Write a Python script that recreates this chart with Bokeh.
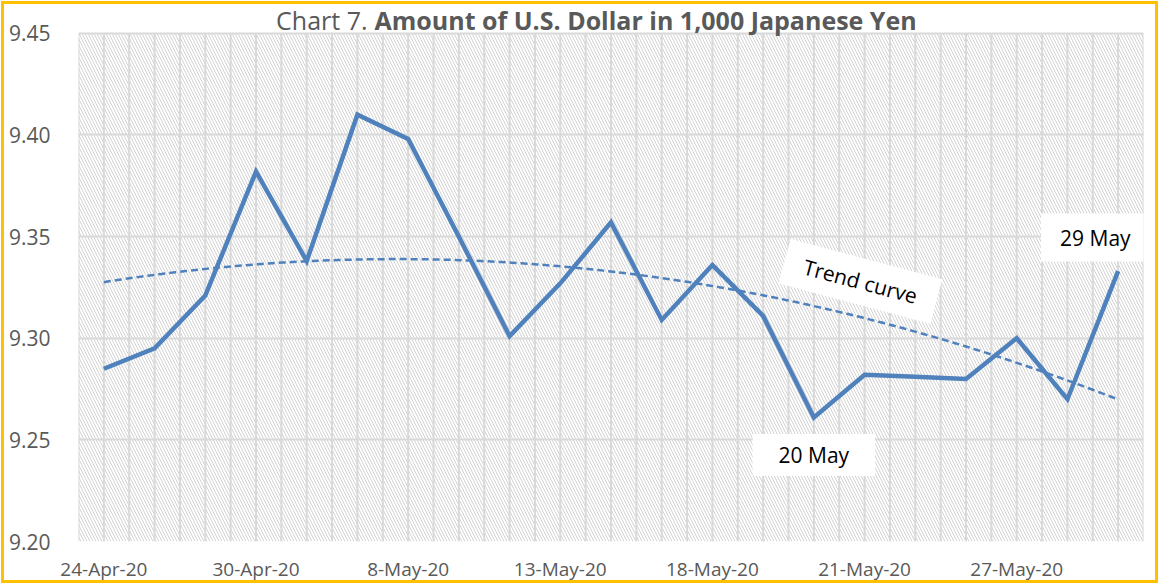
import numpy as np
from bokeh.plotting import figure
from bokeh.models import (BoxAnnotation, Label, FixedTicker, Range1d,
                          CustomJSTickFormatter)
from bokeh.embed import file_html
from bokeh.resources import INLINE

# ---- data ----
dates = ["24-Apr-20", "27-Apr-20", "28-Apr-20", "30-Apr-20", "1-May-20",
         "7-May-20", "8-May-20", "11-May-20", "12-May-20", "13-May-20",
         "14-May-20", "15-May-20", "18-May-20", "19-May-20", "20-May-20",
         "21-May-20", "22-May-20", "26-May-20", "27-May-20", "28-May-20",
         "29-May-20"]
usd = [9.285, 9.295, 9.321, 9.382, 9.338, 9.410, 9.398, 9.350, 9.301, 9.327,
       9.357, 9.309, 9.336, 9.311, 9.261, 9.282, 9.281, 9.280, 9.300, 9.270,
       9.333]
y_ticks = [9.20, 9.25, 9.30, 9.35, 9.40, 9.45]
x_label_every = 3
title_plain = "Chart 7."
title_bold = "Amount of U.S. Dollar in 1,000 Japanese Yen"

FONT = "Open Sans"
GRAY = "#595959"
BLUE = "#4f81bd"
GRID = "#d9d9d9"

xs = list(range(len(usd)))
y_lo, y_hi = y_ticks[0], y_ticks[-1]

p = figure(width=1159, height=584, output_backend="svg",
           toolbar_location=None,
           x_range=Range1d(-0.5, len(usd) - 0.5),
           y_range=Range1d(y_lo, y_hi + 0.0137),
           min_border_left=78, min_border_right=16, min_border_top=5,
           min_border_bottom=41,
           styles={"outline": "3px solid #FFC000", "outline-offset": "-4px",
                   "background-color": "white"})
p.outline_line_color = None
p.background_fill_color = "white"
p.border_fill_color = None

# hatch background of the plot area
p.add_layout(BoxAnnotation(top=y_hi, fill_alpha=0, line_color=None,
                           hatch_pattern="\\", hatch_color="#d2d2d2",
                           hatch_scale=6, hatch_weight=1, level="image"))

# grids
p.xgrid.visible = False
p.ygrid.ticker = FixedTicker(ticks=y_ticks)
p.ygrid.grid_line_color = GRID
p.ygrid.grid_line_width = 2
vticks = [i / 2 - 0.5 for i in range(2 * len(usd) + 1)]
p.segment(x0=vticks, x1=vticks, y0=[y_lo] * len(vticks),
          y1=[y_hi] * len(vticks), line_color=GRID, line_width=2,
          level="underlay")

# axes
p.xaxis.ticker = FixedTicker(ticks=xs[::x_label_every])
p.xaxis.major_label_overrides = {i: dates[i] for i in xs[::x_label_every]}
p.yaxis.ticker = FixedTicker(ticks=y_ticks)
p.yaxis.formatter = CustomJSTickFormatter(code="return tick.toFixed(2);")
for ax in (p.xaxis[0], p.yaxis[0]):
    ax.axis_line_color = None
    ax.major_tick_line_color = None
    ax.minor_tick_line_color = None
    ax.major_label_text_font = FONT
    ax.major_label_text_color = GRAY
p.xaxis.major_label_text_font_size = "19px"
p.yaxis.major_label_text_font_size = "21px"
p.yaxis.major_label_standoff = 22
p.xaxis.major_label_standoff = 8

# trend curve (2nd order polynomial trendline of the data)
coef = np.polyfit(xs, usd, 2)
tx = np.linspace(0, len(usd) - 1, 200)
p.line(tx, np.polyval(coef, tx), line_color=BLUE, line_width=2.5,
       line_dash="7 4")

# main line
p.line(xs, usd, line_color=BLUE, line_width=4.5, line_join="miter")

# annotations
lab_kw = dict(text_font=FONT, text_font_size="21px", text_color="black",
              background_fill_color="white", text_align="center",
              text_baseline="middle")
p.add_layout(Label(x=14, y=9.2426, text="20 May", padding=(26, 7), **lab_kw))
p.add_layout(Label(x=19.55, y=9.3495, text="29 May", padding=(19, 10), **lab_kw))
p.add_layout(Label(x=14.92, y=9.328, text="Trend curve", angle=-0.26,
                   padding=(20, 9), **lab_kw))

# title (plain + bold parts)
t_kw = dict(y=y_hi, y_offset=13, text_font=FONT, text_font_size="25px",
            text_color=GRAY, text_baseline="middle")
p.add_layout(Label(x=5.2, text=title_plain, text_align="right", **t_kw))
p.add_layout(Label(x=5.2, x_offset=7, text=title_bold, text_align="left",
                   text_font_style="bold", **t_kw))

open("out.html", "w").write(file_html(p, INLINE))
